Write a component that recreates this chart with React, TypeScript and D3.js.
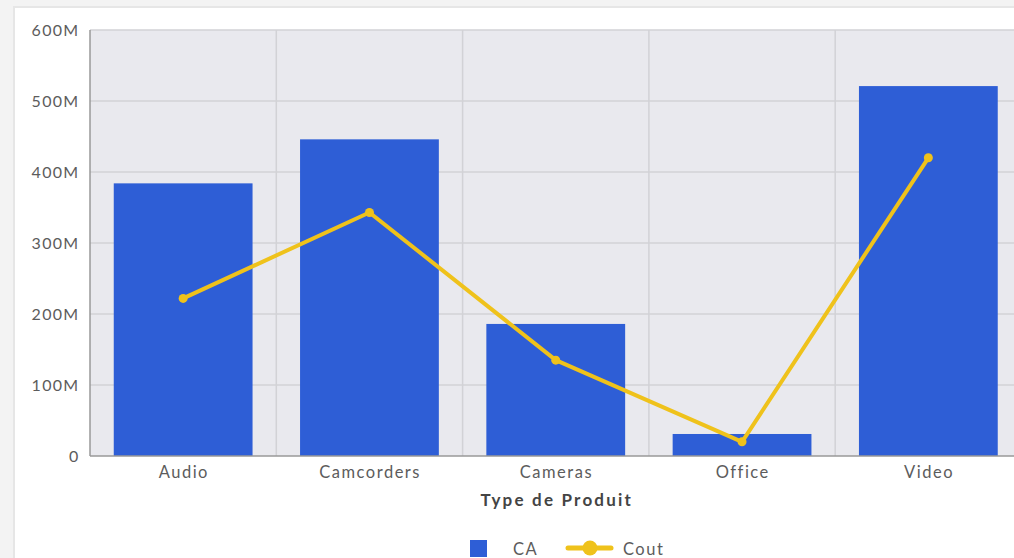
import React, { useEffect, useRef } from 'react';
import * as d3 from 'd3';

const categories = ['Audio', 'Camcorders', 'Cameras', 'Office', 'Video'];
const caValues = [384, 446, 186, 31, 521];
const coutValues = [222, 343, 135, 20, 420];
const yTicks = [0, 100, 200, 300, 400, 500, 600];

const W = 1014, H = 558;

const App = () => {
  const ref = useRef<SVGSVGElement>(null);

  useEffect(() => {
    const svg = d3.select(ref.current);
    svg.selectAll('*').remove();

    const left = 90, top = 30, bottom = 456;
    const step = 186.3;
    const right = left + step * categories.length;
    const font = 'Lato, "Open Sans", sans-serif';
    const txt = '#5c5c5c';

    // page background + card
    svg.append('rect').attr('width', W).attr('height', H).attr('fill', '#f3f3f3');
    svg.append('rect').attr('x', 13).attr('y', 6).attr('width', W).attr('height', H).attr('fill', '#e6e6e6');
    svg.append('rect').attr('x', 15).attr('y', 8).attr('width', W).attr('height', H).attr('fill', '#ffffff');

    const x = d3.scaleBand<string>().domain(categories).range([left, right]).paddingInner(0.255).paddingOuter(0.1275);
    const xc = d3.scalePoint<string>().domain(categories).range([left, right]).padding(0.5);
    const y = d3.scaleLinear().domain([0, 600]).range([bottom, top]);

    svg.append('rect').attr('x', left).attr('y', top).attr('width', right - left).attr('height', bottom - top).attr('fill', '#e9e9ee');

    const g = svg.append('g');
    // horizontal grid
    g.selectAll('line.h').data(yTicks.slice(1)).enter().append('line')
      .attr('x1', left).attr('x2', right)
      .attr('y1', d => y(d)).attr('y2', d => y(d))
      .attr('stroke', '#d2d2d6').attr('stroke-width', 1.5);
    // vertical grid between categories
    g.selectAll('line.v').data(categories.slice(1)).enter().append('line')
      .attr('x1', d => x(d)! - x.step() * x.paddingInner() / 2).attr('x2', d => x(d)! - x.step() * x.paddingInner() / 2)
      .attr('y1', top).attr('y2', bottom)
      .attr('stroke', '#d2d2d6').attr('stroke-width', 1.5);

    // bars
    g.selectAll('rect.bar').data(caValues).enter().append('rect')
      .attr('x', (d, i) => x(categories[i])!)
      .attr('y', d => y(d))
      .attr('width', x.bandwidth())
      .attr('height', d => bottom - y(d))
      .attr('fill', '#2e5ed6');

    // axes lines
    svg.append('line').attr('x1', left).attr('x2', left).attr('y1', top).attr('y2', bottom).attr('stroke', '#999').attr('stroke-width', 1.5);
    svg.append('line').attr('x1', left).attr('x2', right).attr('y1', bottom).attr('y2', bottom).attr('stroke', '#999').attr('stroke-width', 1.5);

    // line series
    const line = d3.line<number>().x((d, i) => xc(categories[i])!).y(d => y(d));
    svg.append('path').datum(coutValues).attr('d', line)
      .attr('fill', 'none').attr('stroke', '#efc21b').attr('stroke-width', 4).attr('stroke-linejoin', 'round');
    svg.selectAll('circle.pt').data(coutValues).enter().append('circle')
      .attr('cx', (d, i) => xc(categories[i])!).attr('cy', d => y(d)).attr('r', 4.5)
      .attr('fill', '#efc21b');

    // y tick labels
    svg.selectAll('text.yt').data(yTicks).enter().append('text')
      .attr('x', 79.5).attr('y', d => y(d)).attr('dy', '0.35em')
      .attr('text-anchor', 'end').attr('font-family', font).attr('font-size', 16).attr('letter-spacing', 1.3).attr('fill', txt)
      .text(d => (d === 0 ? '0' : d + 'M'));

    // x tick labels
    svg.selectAll('text.xt').data(categories).enter().append('text')
      .attr('x', d => xc(d)! + 0.7).attr('y', 472).attr('dy', '0.35em')
      .attr('text-anchor', 'middle').attr('font-family', font).attr('font-size', 16.5).attr('letter-spacing', 1.5).attr('fill', txt)
      .text(d => d);

    svg.append('text').attr('x', xc(categories[2])! + 1).attr('y', 500).attr('dy', '0.35em')
      .attr('text-anchor', 'middle').attr('font-family', font).attr('font-size', 17).attr('font-weight', 'bold').attr('letter-spacing', 2.2).attr('fill', '#444')
      .text('Type de Produit');

    // legend
    const lg = svg.append('g');
    lg.append('rect').attr('x', 470).attr('y', 540).attr('width', 17).attr('height', 17).attr('fill', '#2e5ed6');
    lg.append('text').attr('x', 513).attr('y', 549).attr('dy', '0.35em').attr('font-family', font).attr('font-size', 16.5).attr('letter-spacing', 1.5).attr('fill', txt).text('CA');
    lg.append('line').attr('x1', 568).attr('x2', 611).attr('y1', 548).attr('y2', 548).attr('stroke', '#efc21b').attr('stroke-width', 5).attr('stroke-linecap', 'round');
    lg.append('circle').attr('cx', 590).attr('cy', 548).attr('r', 7.5).attr('fill', '#efc21b');
    lg.append('text').attr('x', 623).attr('y', 549).attr('dy', '0.35em').attr('font-family', font).attr('font-size', 16.5).attr('letter-spacing', 1.5).attr('fill', txt).text('Cout');
  }, []);

  return <svg ref={ref} width={W} height={H} style={{ position: 'absolute', left: 0, top: 0 }} />;
};

export default App;
